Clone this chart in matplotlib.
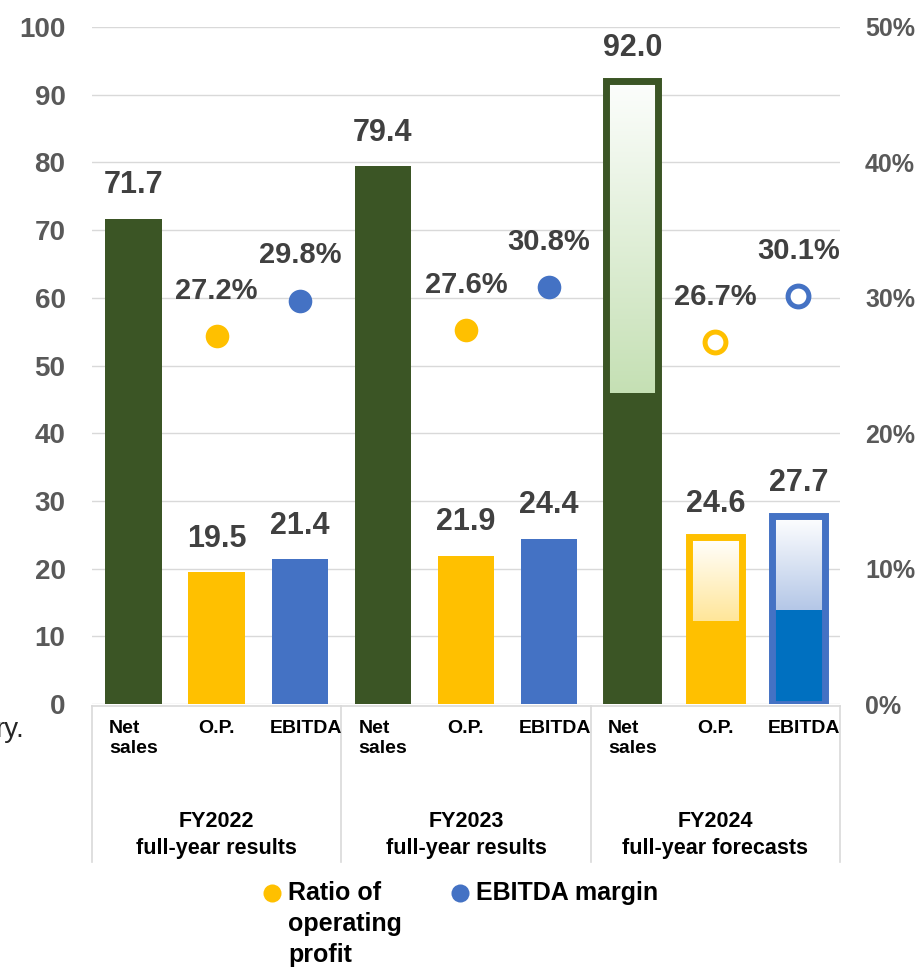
import matplotlib
matplotlib.use("Agg")
import matplotlib.pyplot as plt
import numpy as np
from matplotlib import transforms
from matplotlib.colors import to_rgb
from matplotlib.lines import Line2D

plt.rcParams['font.family'] = ['Liberation Sans', 'DejaVu Sans']

groups = ['FY2022\nfull-year results', 'FY2023\nfull-year results', 'FY2024\nfull-year forecasts']
items = ['Net\nsales', 'O.P.', 'EBITDA']
net_sales = [71.7, 79.4, 92.0]
op = [19.5, 21.9, 24.6]
ebitda = [21.4, 24.4, 27.7]
op_ratio = [27.2, 27.6, 26.7]
ebitda_margin = [29.8, 30.8, 30.1]
is_forecast = [False, False, True]
legend_labels = ['Ratio of\noperating\nprofit', 'EBITDA margin']

GREEN = '#3b5525'
ORANGE = '#ffc000'
BLUE = '#4472c4'
BLUE_DARK = '#0070c0'
# light tints used in the forecast gradients
TINTS = ['#c5e0b4', '#ffe699', '#b4c7e7']
FILLS = [GREEN, ORANGE, BLUE_DARK]
EDGES = [GREEN, ORANGE, BLUE]
LABEL = '#404040'
TICK = '#595959'
GRID = '#d9d9d9'

W, H = 920, 968
fig = plt.figure(figsize=(W / 100, H / 100), dpi=100)
ax = fig.add_axes([92 / W, 1 - 704 / H, 748 / W, 677 / H])
ax2 = ax.twinx()


def fy(py):
    return 1 - py / H


bw = 0.68
series = [net_sales, op, ebitda]
for g in range(len(groups)):
    for k in range(3):
        x = g * 3 + k
        v = series[k][g]
        if not is_forecast[g]:
            ax.bar(x, v, width=bw, color=FILLS[k] if k != 2 else BLUE, zorder=2)
        else:
            w = bw - 0.05
            half = v / 2
            ax.bar(x, half, width=w, color=FILLS[k], zorder=2)
            c0 = np.array([0.99, 0.995, 0.99]) if k == 0 else np.array([1.0, 1.0, 1.0])
            c1 = np.array(to_rgb(TINTS[k]))
            t = np.linspace(0, 1, 200)[:, None, None]
            grad = c0 * (1 - t) + c1 * t
            ax.imshow(grad, extent=[x - w / 2, x + w / 2, half, v], aspect='auto',
                      origin='upper', zorder=2.5, interpolation='bilinear')
            ax.bar(x, v, width=w, facecolor='none', edgecolor=EDGES[k], linewidth=5, zorder=3)
        ax.annotate(f'{v:.1f}', (x, v), xytext=(0, 24), textcoords='offset points',
                    ha='center', va='center', fontsize=22, fontweight='bold', color=LABEL)

# margin markers on the percent axis
for g in range(len(groups)):
    for k, (vals, col) in enumerate([(op_ratio, ORANGE), (ebitda_margin, BLUE)]):
        x = g * 3 + 1 + k
        v = vals[g]
        if is_forecast[g]:
            ax2.plot(x, v, 'o', markersize=15, markerfacecolor='white',
                     markeredgecolor=col, markeredgewidth=3.6, zorder=4)
        else:
            ax2.plot(x, v, 'o', markersize=17, color=col, markeredgewidth=0, zorder=4)
        ax2.annotate(f'{v:.1f}%', (x, v), xytext=(0, 32.5), textcoords='offset points',
                     ha='center', va='center', fontsize=21, fontweight='bold', color=LABEL)

ax.set_xlim(-0.5, 8.5)
ax.set_ylim(0, 100)
ax2.set_ylim(0, 50)
ax.set_yticks(np.arange(0, 101, 10))
ax2.set_yticks(np.arange(0, 51, 10))
ax2.set_yticklabels([f'{t}%' for t in range(0, 51, 10)])
ax.yaxis.grid(True, color=GRID, linewidth=1)
ax.set_axisbelow(True)
ax.set_xticks([])
for a, size, pad in ((ax, 20, 19), (ax2, 18, 18)):
    for s in a.spines.values():
        s.set_visible(False)
    a.tick_params(axis='y', length=0, labelsize=size, labelcolor=TICK, pad=pad)
    for lab in a.get_yticklabels():
        lab.set_fontweight('bold')

# multi-level category axis
tr = transforms.blended_transform_factory(ax.transData, fig.transFigure)
fig.add_artist(Line2D([-0.5, 8.5], [fy(706), fy(706)], transform=tr, color=GRID, linewidth=1.2))
for xb in [-0.5, 2.5, 5.5, 8.5]:
    fig.add_artist(Line2D([xb, xb], [fy(706), fy(862)], transform=tr, color=GRID, linewidth=1.2))
for g in range(len(groups)):
    for k in range(3):
        x = g * 3 + k
        fig.text(x + (0.07 if k == 2 else 0), fy(720), items[k], transform=tr, ha='center', va='top',
                 multialignment='left', fontsize=14, fontweight='bold', color='black',
                 linespacing=1.25)
    fig.text(g * 3 + 1, fy(835), groups[g], transform=tr, ha='center', va='center',
             fontsize=15.5, fontweight='bold', color='black', linespacing=1.35)

fig.text(24 / W, fy(730), 'ry.', ha='right', va='center', fontsize=20, color='#262626')

# legend
for (px, col), lab in zip([(272, ORANGE), (460, BLUE)], legend_labels):
    fig.add_artist(Line2D([px / W], [fy(893)], transform=fig.transFigure, marker='o',
                          markersize=13, color=col, markeredgewidth=0, linestyle='none'))
    for i, line in enumerate(lab.split('\n')):
        fig.text((px + 16) / W, fy(893 + i * 31), line, ha='left', va='center',
                 fontsize=18, fontweight='bold', color='black')

fig.savefig('out.png', dpi=100)
